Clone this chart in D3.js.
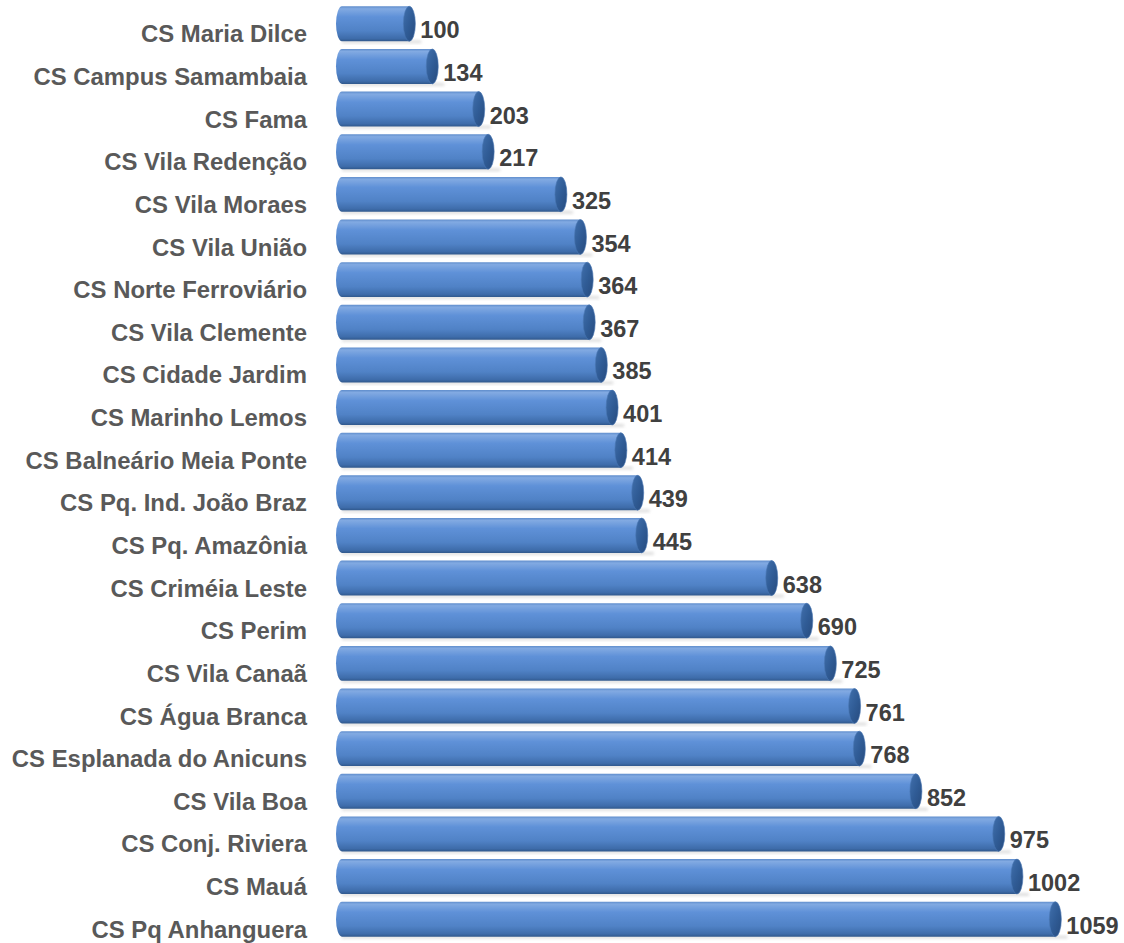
<!DOCTYPE html>
<html>
<head>
<meta charset="utf-8">
<script src="https://cdn.jsdelivr.net/npm/d3@7"></script>
<style>
  body { margin: 0; background: #fff; }
  text { font-family: "Liberation Sans", Arial, sans-serif; font-weight: bold; }
</style>
</head>
<body>
<div id="chart"></div>
<script>
const width = 1124
const height = 943

// data, top to bottom
const categories = [
  "CS Maria Dilce", "CS Campus Samambaia", "CS Fama", "CS Vila Redenção",
  "CS Vila Moraes", "CS Vila União", "CS Norte Ferroviário", "CS Vila Clemente",
  "CS Cidade Jardim ", "CS Marinho Lemos", "CS Balneário Meia Ponte", "CS Pq. Ind. João Braz",
  "CS Pq. Amazônia", "CS Criméia Leste", "CS Perim", "CS Vila Canaã",
  "CS Água Branca", "CS Esplanada do Anicuns", "CS Vila Boa", "CS Conj. Riviera",
  "CS Mauá", "CS Pq Anhanguera"
]
const values = [100, 134, 203, 217, 325, 354, 364, 367, 385, 401, 414, 439,
  445, 638, 690, 725, 761, 768, 852, 975, 1002, 1059]

const data = categories.map((c, i) => ({ name: c, value: values[i] }))

const svg = d3.select("div#chart").append("svg").attr("width", width).attr("height", height)

const defs = svg.append("defs")
const bodyGrad = defs.append("linearGradient").attr("id", "bodyGrad")
  .attr("x1", 0).attr("y1", 0).attr("x2", 0).attr("y2", 1)
bodyGrad.selectAll("stop").data([
  [0, "#5f8dcc"], [0.07, "#82aae2"], [0.3, "#5f91d8"], [0.7, "#5082c6"], [0.92, "#3e6caa"], [1, "#30588c"]
]).enter().append("stop").attr("offset", d => d[0]).attr("stop-color", d => d[1])

const capGrad = defs.append("linearGradient").attr("id", "capGrad")
  .attr("x1", 0).attr("y1", 0).attr("x2", 1).attr("y2", 1)
capGrad.selectAll("stop").data([
  [0, "#4170ad"], [0.5, "#305c96"], [1, "#274b7e"]
]).enter().append("stop").attr("offset", d => d[0]).attr("stop-color", d => d[1])

const blur = defs.append("filter").attr("id", "shadow").attr("x", "-5%").attr("y", "-50%").attr("width", "110%").attr("height", "200%")
blur.append("feGaussianBlur").attr("stdDeviation", 1.5)

const x = d3.scaleLinear().domain([0, 1059]).range([342, 342 + 1059 * 0.6736])
const y = d3.scaleBand().domain(categories).range([2.5, 940.5]).paddingInner(0.18).paddingOuter(0.09)

const bw = y.bandwidth()
const rx = 6
const ry = bw / 2

const rows = svg.append("g").attr("id", "elementGroup")
  .selectAll("g").data(data).enter().append("g")

// faint shadow below each bar
rows.append("rect")
  .attr("x", d => x(0))
  .attr("y", d => y(d.name) + bw - 1)
  .attr("width", d => x(d.value) - x(0) + 12)
  .attr("height", 3)
  .attr("fill", "#c8c8c8")
  .attr("opacity", 0.6)
  .attr("filter", "url(#shadow)")

rows.append("path")
  .attr("d", d => {
    const x0 = x(0), x1 = x(d.value), t = y(d.name), b = t + bw
    return `M${x0},${t} L${x1},${t} L${x1},${b} L${x0},${b} A${rx},${ry} 0 0 1 ${x0},${t} Z`
  })
  .attr("fill", "url(#bodyGrad)")

rows.append("ellipse")
  .attr("cx", d => x(d.value))
  .attr("cy", d => y(d.name) + ry)
  .attr("rx", rx)
  .attr("ry", ry)
  .attr("fill", "url(#capGrad)")
  .attr("stroke", "#4a77b4")
  .attr("stroke-width", 0.6)

rows.append("text")
  .attr("x", d => x(d.value) + 11)
  .attr("y", d => y(d.name) + ry + 14.5)
  .attr("fill", "#404040")
  .style("font-size", "23.5px")
  .text(d => d.value)

rows.append("text")
  .attr("x", 307)
  .attr("y", d => y(d.name) + ry + 18.5)
  .attr("text-anchor", "end")
  .attr("fill", "#595959")
  .style("font-size", "23.9px")
  .text(d => d.name)
</script>
</body>
</html>
